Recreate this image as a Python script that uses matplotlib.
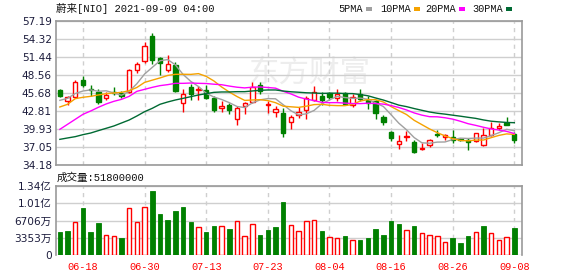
import matplotlib
matplotlib.use('Agg')
import matplotlib.pyplot as plt
from matplotlib.patches import Rectangle
import numpy as np

# ---------------- data ----------------
dates = ['06-15','06-16','06-17','06-18','06-21','06-22','06-23','06-24','06-25','06-28',
         '06-29','06-30','07-01','07-02','07-06','07-07','07-08','07-09','07-12','07-13',
         '07-14','07-15','07-16','07-19','07-20','07-21','07-22','07-23','07-26','07-27',
         '07-28','07-29','07-30','08-02','08-03','08-04','08-05','08-06','08-09','08-10',
         '08-11','08-12','08-13','08-16','08-17','08-18','08-19','08-20','08-23','08-24',
         '08-25','08-26','08-27','08-30','08-31','09-01','09-02','09-03','09-07','09-08']

opens = [46.17, 44.35, 45.05, 47.71, 46.38, 45.90, 44.94, 45.79, 45.63, 45.79,
         49.31, 50.75, 54.79, 51.28, 49.41, 50.21, 44.03, 46.65, 46.11, 46.11,
         44.94, 43.34, 43.77, 41.58, 43.66, 44.25, 46.91, 43.72, 42.70, 42.49,
         41.00, 42.22, 42.92, 44.62, 45.21, 45.69, 44.83, 45.69, 43.72, 45.47,
         44.62, 44.41, 41.85, 39.45, 37.48, 38.60, 37.86, 36.69, 37.38, 39.19,
         38.71, 38.60, 38.28, 38.23, 38.02, 37.38, 38.98, 40.15, 40.89, 39.14]
highs = [46.27, 45.21, 47.76, 48.40, 46.91, 46.38, 45.79, 46.70, 46.00, 49.47,
         50.59, 53.83, 55.27, 51.44, 51.70, 50.59, 46.27, 47.07, 46.81, 46.91,
         45.15, 44.41, 44.03, 43.61, 44.30, 47.44, 47.39, 44.41, 43.66, 43.34,
         42.12, 43.45, 45.15, 46.75, 45.85, 45.90, 46.27, 45.85, 45.58, 46.27,
         45.26, 44.62, 42.17, 39.61, 38.92, 39.61, 38.12, 37.70, 38.34, 39.72,
         39.19, 39.77, 38.50, 38.44, 39.35, 40.04, 41.11, 40.89, 41.85, 39.40]
lows = [45.10, 43.77, 44.89, 46.70, 45.21, 43.87, 44.57, 45.42, 44.94, 45.69,
        48.83, 50.48, 50.37, 48.62, 49.09, 45.84, 42.70, 44.62, 44.57, 44.67,
        42.70, 42.65, 42.33, 40.52, 42.38, 44.03, 45.58, 42.54, 41.90, 38.66,
        39.88, 41.75, 41.53, 44.36, 43.82, 44.51, 44.41, 43.72, 43.50, 44.41,
        43.18, 41.53, 40.63, 38.07, 36.79, 37.96, 36.15, 36.58, 37.11, 38.71,
        38.18, 37.70, 38.02, 36.63, 37.86, 37.17, 38.82, 39.83, 40.63, 37.70]
closes = [45.26, 45.00, 47.44, 46.96, 46.22, 44.19, 45.37, 45.74, 45.15, 49.31,
          50.27, 53.14, 51.01, 50.48, 50.27, 46.00, 45.47, 45.47, 46.38, 44.94,
          42.92, 43.56, 42.92, 43.29, 44.09, 46.65, 46.00, 43.93, 43.13, 39.35,
          41.85, 42.65, 44.83, 45.79, 44.57, 45.05, 45.53, 43.87, 45.10, 44.78,
          44.14, 42.54, 41.10, 38.55, 38.02, 38.82, 36.31, 36.95, 38.18, 38.90,
          38.92, 38.23, 38.12, 37.91, 39.24, 38.92, 40.15, 40.47, 40.63, 38.12]
prev_close_start = 46.50

volume_wan = [4471, 4600, 6350, 9137, 4471, 6220, 3823, 3629, 3240, 9072,
              6350, 9266, 12441, 7970, 6804, 8553, 9331, 6415, 5378, 4471,
              5637, 5573, 5054, 6545, 3629, 5962, 3888, 4860, 5443, 10303,
              5767, 4600, 6545, 6739, 4600, 3434, 3240, 3629, 2851, 2916,
              3305, 5054, 3888, 6610, 6026, 4795, 5637, 4212, 3823, 3629,
              2462, 3305, 2333, 3694, 4406, 5637, 4212, 2916, 3434, 5180]

ma5 = [44.51, 44.83, 45.60, 46.00, 46.18, 45.96, 46.04, 45.70, 45.33, 45.95,
       47.17, 48.72, 49.78, 50.84, 51.03, 50.18, 48.65, 47.54, 46.72, 45.65,
       45.04, 44.65, 44.14, 43.53, 43.36, 44.10, 44.59, 44.79, 44.76, 43.81,
       42.85, 42.18, 42.36, 42.89, 43.94, 44.58, 45.15, 44.96, 44.82, 44.87,
       44.68, 44.09, 43.53, 42.22, 40.87, 39.81, 38.56, 37.73, 37.66, 37.84,
       37.86, 38.24, 38.47, 38.42, 38.48, 38.48, 38.87, 39.34, 39.88, 39.66]
ma10 = [43.45, 43.88, 44.78, 45.00, 45.15, 45.37, 45.58, 45.69, 45.79, 46.06,
        46.57, 47.38, 47.74, 48.09, 48.49, 48.67, 48.68, 48.66, 48.78, 48.34,
        47.61, 46.65, 45.84, 45.12, 44.50, 44.57, 44.62, 44.47, 44.14, 43.58,
        43.48, 43.39, 43.58, 43.83, 43.88, 43.72, 43.67, 43.66, 43.86, 44.40,
        44.63, 44.62, 44.25, 43.52, 42.87, 42.25, 41.32, 40.63, 39.94, 39.35,
        38.83, 38.40, 38.10, 38.04, 38.16, 38.17, 38.55, 38.91, 39.15, 39.07]
ma20 = [39.88, 40.68, 41.48, 42.28, 42.81, 43.40, 43.93, 44.35, 44.67, 45.15,
        45.95, 46.27, 46.59, 46.86, 47.02, 47.23, 47.23, 47.28, 47.23, 47.20,
        47.09, 47.01, 46.79, 46.61, 46.50, 46.62, 46.65, 46.56, 46.46, 45.96,
        45.54, 45.02, 44.71, 44.47, 44.19, 44.14, 44.15, 44.07, 44.00, 43.99,
        44.05, 44.00, 43.91, 43.68, 43.37, 42.98, 42.50, 42.15, 41.90, 41.88,
        41.73, 41.51, 41.17, 40.78, 40.51, 40.21, 39.94, 39.77, 39.55, 39.21]
ma30 = [38.28, 38.50, 38.71, 39.03, 39.29, 39.67, 40.04, 40.41, 40.89, 41.37,
        42.01, 42.70, 43.24, 43.88, 44.25, 44.57, 44.83, 45.10, 45.37, 45.58,
        45.79, 45.85, 45.85, 45.90, 45.90, 46.01, 46.11, 46.17, 46.17, 46.00,
        45.88, 45.81, 45.72, 45.68, 45.62, 45.65, 45.66, 45.60, 45.59, 45.44,
        45.24, 44.89, 44.56, 44.16, 43.75, 43.51, 43.20, 42.92, 42.65, 42.45,
        42.31, 42.14, 41.98, 41.80, 41.63, 41.38, 41.18, 41.07, 40.98, 40.94]

price_min, price_max = 34.18, 57.19
price_tick_labels = ['34.18', '37.05', '39.93', '42.81', '45.68', '48.56', '51.44', '54.32', '57.19']
vol_tick_values_wan = [0, 3353, 6706, 10059, 13412]
vol_tick_labels = ['0', '3353万', '6706万', '1.01亿', '1.34亿']
date_tick_idx = [3, 11, 19, 27, 35, 43, 51, 59]
title_text = '蔚来[NIO] 2021-09-09 04:00'
ma_names = ['5PMA', '10PMA', '20PMA', '30PMA']
ma_colors = ['#a0a0a0', '#f5a200', '#ff00ff', '#006a33']

# ---------------- styling ----------------
RED = '#ff0000'
GREEN = '#008000'
GRID = '#cfcfcf'
FRAME = '#999999'
LABEL = '#1c1c3c'
MONO = ['Liberation Mono', 'Noto Sans CJK SC']
SANS = ['DejaVu Sans', 'Noto Sans CJK SC']

W, H = 578, 276
fig = plt.figure(figsize=(W / 100, H / 100), dpi=100)


def ax_rect(l, t, r, b):
    return [l / W, 1 - b / H, (r - l) / W, (b - t) / H]


ax = fig.add_axes(ax_rect(56, 21, 522, 165))
axv = fig.add_axes(ax_rect(56, 186, 522, 255))

n = len(closes)
x = np.arange(n)
xlim = (-0.5, n)

# ---- price panel ----
ax.set_xlim(*xlim)
ax.set_ylim(price_min, price_max)
ax.set_yticks(np.linspace(price_min, price_max, len(price_tick_labels)))
ax.set_yticklabels(price_tick_labels, fontsize=7.6, color=LABEL, family=SANS)
ax.set_xticks(date_tick_idx)
ax.set_xticklabels([])
ax.tick_params(length=0, pad=3)
ax.grid(axis='y', color=GRID, lw=1, zorder=0)
ax.grid(axis='x', color=GRID, lw=1, ls=(0, (3, 3)), zorder=0)
ax.set_axisbelow(True)
for s in ax.spines.values():
    s.set_color(FRAME)
    s.set_linewidth(1.2)

# watermark
ax.text(0.545, 0.64, '东方财富', transform=ax.transAxes, ha='center', va='center',
        fontsize=22, color='#ededed', family=['Noto Sans CJK SC'], zorder=0.5)

bw = 0.56
for i in range(n):
    o, h, l, c = opens[i], highs[i], lows[i], closes[i]
    if c >= o:
        bot, top = o, c
        col = RED
        ax.plot([i, i], [top, h], color=col, lw=1, zorder=2, solid_capstyle='butt')
        ax.plot([i, i], [l, bot], color=col, lw=1, zorder=2, solid_capstyle='butt')
        hgt = max(top - bot, 0.12)
        ax.add_patch(Rectangle((i - bw / 2, bot), bw, hgt, facecolor='white',
                               edgecolor=col, lw=1, zorder=3))
    else:
        bot, top = c, o
        col = GREEN
        ax.plot([i, i], [l, h], color=col, lw=1, zorder=2, solid_capstyle='butt')
        hgt = max(top - bot, 0.12)
        ax.add_patch(Rectangle((i - bw / 2, bot), bw, hgt, facecolor=col,
                               edgecolor=col, lw=1, zorder=3))

for vals, colr in zip([ma5, ma10, ma20, ma30], ma_colors):
    ax.plot(x, vals, color=colr, lw=1, zorder=4)

# ---- volume panel ----
axv.set_xlim(*xlim)
axv.set_ylim(0, vol_tick_values_wan[-1] * 1e4)
axv.set_yticks([v * 1e4 for v in vol_tick_values_wan])
axv.set_yticklabels(vol_tick_labels, fontsize=7.6, color=LABEL, family=SANS)
axv.set_xticks(date_tick_idx)
axv.set_xticklabels([dates[i] for i in date_tick_idx], fontsize=7.4, color=RED, family=MONO)
axv.tick_params(length=0, pad=3)
axv.tick_params(axis='x', pad=5)
axv.grid(axis='y', color=GRID, lw=1, zorder=0)
axv.grid(axis='x', color=GRID, lw=1, ls=(0, (3, 3)), zorder=0)
axv.set_axisbelow(True)
for s in axv.spines.values():
    s.set_color(FRAME)
    s.set_linewidth(1.2)
axv.spines['bottom'].set_visible(False)

prev = [prev_close_start] + closes[:-1]
vb = 0.58
for i in range(n):
    v = volume_wan[i] * 1e4
    if closes[i] > prev[i]:
        axv.add_patch(Rectangle((i - vb / 2, 0), vb, v, facecolor='white',
                                edgecolor=RED, lw=1, zorder=3))
    else:
        axv.add_patch(Rectangle((i - vb / 2, 0), vb, v, facecolor=GREEN,
                                edgecolor=GREEN, lw=0.6, zorder=3))

# ---- texts ----
fig.text(56 / W, 1 - 9 / H, title_text, ha='left', va='center', fontsize=7.6,
         color='#111111', family=MONO)
fig.text(57 / W, 1 - 177.5 / H, '成交量:%d' % (volume_wan[-1] * 10000), ha='left',
         va='center', fontsize=7.6, color='#111111', family=MONO)

# legend
leg_x = [338, 380, 425, 472]
for name, colr, lx in zip(ma_names, ma_colors, leg_x):
    t = fig.text(lx / W, 1 - 9 / H, name, ha='left', va='center', fontsize=7.4,
                 color='#111111', family=MONO)
    sw_x = lx + len(name) * 6.2 + 3
    fig.patches.append(Rectangle((sw_x / W, 1 - 10.5 / H), 6 / W, 3 / H,
                                 transform=fig.transFigure, facecolor=colr,
                                 edgecolor='none'))

fig.savefig('out.png', dpi=100, facecolor='white')
